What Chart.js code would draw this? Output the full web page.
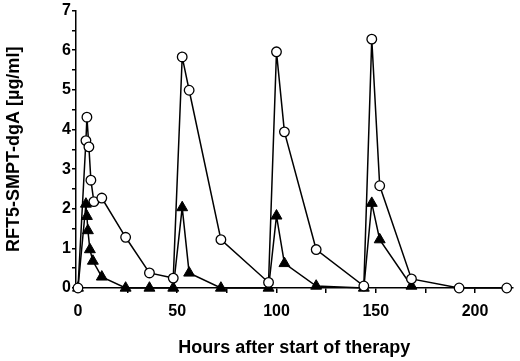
<!DOCTYPE html>
<html>
<head>
<meta charset="utf-8">
<script src="https://cdn.jsdelivr.net/npm/chart.js@4.4.0/dist/chart.umd.min.js"></script>
<style>
  html, body { margin: 0; padding: 0; background: #fff; }
  #wrap { width: 520px; height: 361px; }
</style>
</head>
<body>
<div id="wrap"><canvas id="PkChart"></canvas></div>
<script>
// open circles
const circleHours = [0, 4, 4.5, 5.5, 6.5, 8, 12, 24, 36, 48, 52.5, 56, 72, 96, 100, 104, 120, 144, 148, 152, 168, 192, 216];
const circleValues = [0, 3.72, 4.31, 3.56, 2.72, 2.18, 2.27, 1.28, 0.38, 0.25, 5.83, 4.99, 1.22, 0.14, 5.96, 3.94, 0.97, 0.05, 6.28, 2.58, 0.23, 0, 0];

// filled triangles
const triangleHours = [0, 4, 4.5, 5, 6, 7.5, 12, 24, 36, 48, 52.5, 56, 72, 96, 100, 104, 120, 144, 148, 152, 168];
const triangleValues = [0, 2.12, 1.81, 1.45, 0.97, 0.68, 0.28, 0, 0, 0, 2.03, 0.38, 0, 0, 1.82, 0.62, 0.05, 0, 2.14, 1.22, 0.05];

const xTicks = [0, 25, 50, 75, 100, 125, 150, 175, 200];
const xTickLabels = [0, 50, 100, 150, 200];
const yTickLabels = [0, 1, 2, 3, 4, 5, 6, 7];

const font = "'Liberation Sans', Arial, Helvetica, sans-serif";

function toPoints(xs, ys){
    return xs.map((x, i) => ({x: x, y: ys[i]}));
}

const ctx = document.getElementById("PkChart").getContext("2d");
const chart = new Chart(ctx, {
    type: 'line',
    data: {
        datasets: [{
            label: "circles",
            data: toPoints(circleHours, circleValues),
            borderColor: '#000',
            borderWidth: 1.5,
            pointStyle: 'circle',
            pointRadius: 4.8,
            pointBackgroundColor: '#fff',
            pointBorderColor: '#000',
            pointBorderWidth: 1.3,
            tension: 0,
            clip: false
        }, {
            label: "triangles",
            data: toPoints(triangleHours, triangleValues),
            borderColor: '#000',
            borderWidth: 1.5,
            pointStyle: 'triangle',
            pointRadius: 6.3,
            pointBackgroundColor: '#000',
            pointBorderColor: '#000',
            pointBorderWidth: 1,
            tension: 0,
            clip: false
        }]
    },
    options: {
        responsive: true,
        maintainAspectRatio: false,
        animation: false,
        layout: { padding: { top: 8, right: 4, bottom: 0, left: 0 } },
        plugins: { legend: { display: false }, tooltip: { enabled: false } },
        scales: {
            x: {
                type: 'linear',
                min: -1,
                max: 219,
                afterFit: s => { s.height = 73; },
                afterBuildTicks: s => { s.ticks = xTicks.map(v => ({value: v})); },
                ticks: {
                    autoSkip: false,
                    maxRotation: 0,
                    padding: 9,
                    color: '#000',
                    font: { family: font, size: 16, weight: 'bold' },
                    callback: v => xTickLabels.includes(v) ? String(v) : ''
                },
                grid: { drawOnChartArea: false, drawTicks: true, tickLength: 5, color: '#000', lineWidth: 1.5 },
                border: { display: true, color: '#000', width: 1.5 },
                title: {
                    display: true,
                    text: "Hours after start of therapy",
                    color: '#000',
                    font: { family: font, size: 18, weight: 'bold' },
                    padding: { top: 2, bottom: 2 }
                }
            },
            y: {
                type: 'linear',
                min: 0,
                max: 7,
                afterFit: s => { s.width = 76; },
                ticks: {
                    stepSize: 0.5,
                    autoSkip: false,
                    padding: 1,
                    color: '#000',
                    font: { family: font, size: 16, weight: 'bold' },
                    callback: v => yTickLabels.includes(v) ? String(v) : ''
                },
                grid: { drawOnChartArea: false, drawTicks: true, tickLength: 4, color: '#000', lineWidth: 1.5 },
                border: { display: true, color: '#000', width: 1.5 },
                title: {
                    display: true,
                    text: "RFT5-SMPT-dgA [µg/ml]",
                    color: '#000',
                    font: { family: font, size: 18, weight: 'bold' },
                    padding: { top: 3, bottom: 3 }
                }
            }
        }
    }
});
</script>
</body>
</html>
